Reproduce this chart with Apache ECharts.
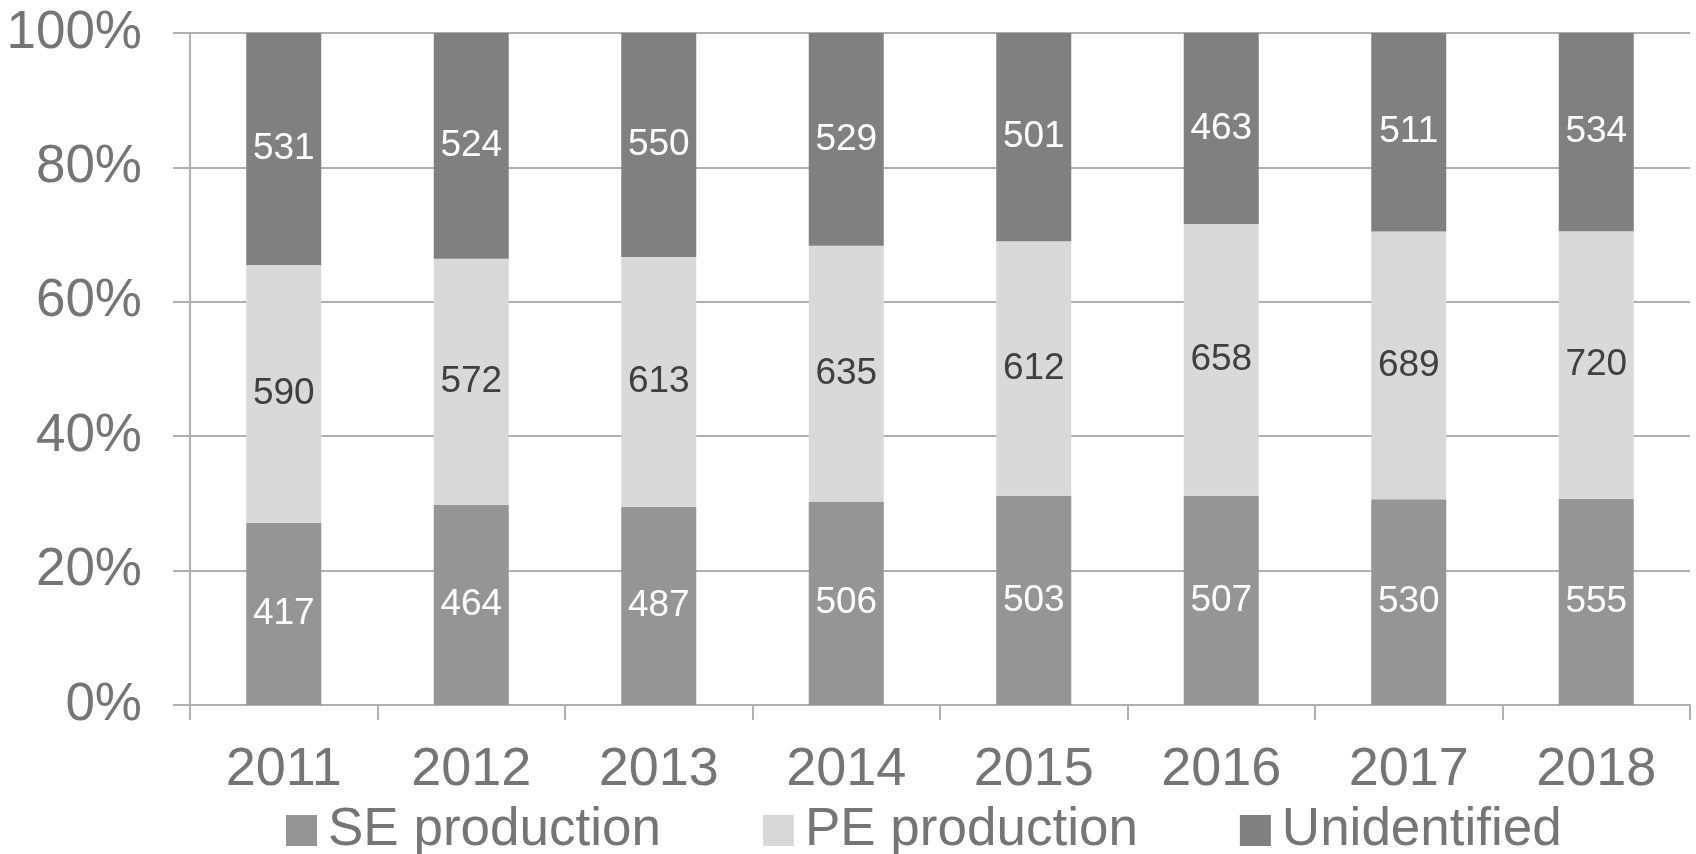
<!DOCTYPE html>
<html><head><meta charset="utf-8">
<script src="https://cdn.jsdelivr.net/npm/echarts@6/dist/echarts.min.js"></script>
<style>html,body{margin:0;padding:0;background:#fff}#c{width:1696px;height:854px}</style>
</head><body><div id="c"></div>
<script>
const categories = ['2011','2012','2013','2014','2015','2016','2017','2018'];
const seProduction = [417,464,487,506,503,507,530,555];
const peProduction = [590,572,613,635,612,658,689,720];
const unidentified = [531,524,550,529,501,463,511,534];
const yTicks = ['0%','20%','40%','60%','80%','100%'];

const totals = categories.map((_, i) => seProduction[i] + peProduction[i] + unidentified[i]);
const pct = arr => arr.map((v, i) => ({value: v / totals[i] * 100, raw: v}));

const font = 'Liberation Sans, Arial, sans-serif';
const mk = (name, arr, color, labelColor) => ({
  name, type: 'bar', stack: 'a', barWidth: '40%', data: pct(arr),
  itemStyle: {color},
  label: {show: true, position: 'inside', color: labelColor, fontSize: 37, fontFamily: font,
    formatter: p => p.data.raw}
});
const chart = echarts.init(document.getElementById('c'));
chart.setOption({
  animation: false,
  grid: {left: 190, right: 6, top: 33, bottom: 149},
  legend: {bottom: -8, left: 281, itemWidth: 31, itemHeight: 31, itemGap: 102,
    icon: 'rect', textStyle: {fontSize: 53, color: '#757575', fontFamily: font, padding: [0, 0, 0, 6]},
    data: ['SE production','PE production','Unidentified']},
  xAxis: {type: 'category', data: categories,
    axisLine: {lineStyle: {color: '#b0b0b0', width: 2}},
    axisTick: {show: true, length: 15, lineStyle: {color: '#b0b0b0', width: 2}},
    axisLabel: {fontSize: 54, color: '#757575', fontFamily: font, margin: 38}},
  yAxis: {type: 'value', min: 0, max: 100, interval: 20,
    axisLine: {show: true, lineStyle: {color: '#b0b0b0', width: 2}},
    axisTick: {show: true, length: 17, lineStyle: {color: '#b0b0b0', width: 2}},
    splitLine: {lineStyle: {color: '#b0b0b0', width: 2}},
    axisLabel: {fontSize: 53, color: '#757575', fontFamily: font, margin: 48,
      formatter: v => yTicks[Math.round(v / 20)]}},
  series: [
    mk('SE production', seProduction, '#959595', '#ffffff'),
    mk('PE production', peProduction, '#d9d9d9', '#404040'),
    mk('Unidentified', unidentified, '#808080', '#ffffff')
  ]
});
</script></body></html>
